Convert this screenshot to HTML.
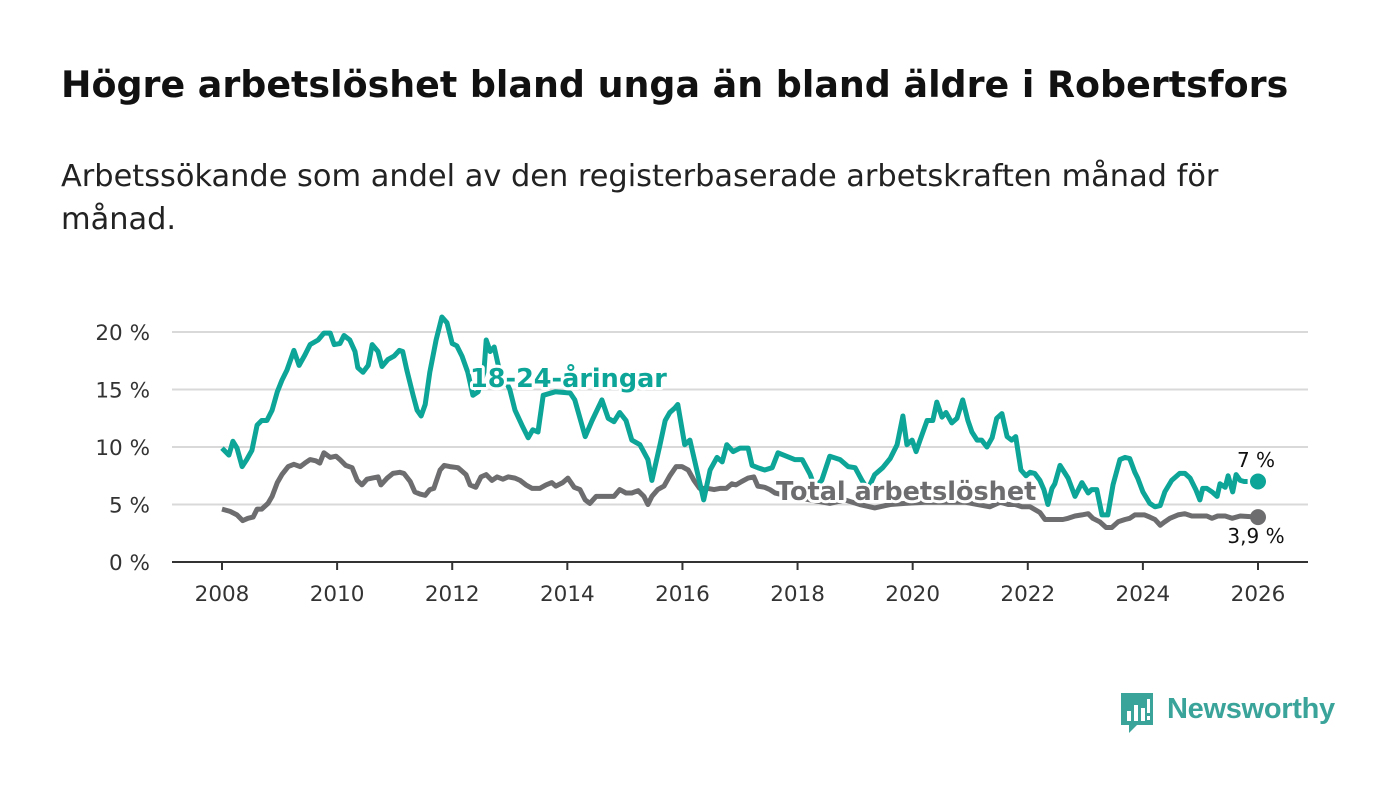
<!DOCTYPE html>
<html><head><meta charset="utf-8">
<style>
body{margin:0;width:1400px;height:794px;background:#fff;overflow:hidden;font-family:"DejaVu Sans",sans-serif;color:#111}
h1{position:absolute;left:61px;top:63px;margin:0;font-size:36.4px;font-weight:bold;white-space:nowrap;font-family:"DejaVu Sans",sans-serif}
.sub{position:absolute;left:61px;top:155px;margin:0;font-size:30.4px;line-height:43px;width:1300px;color:#222;font-family:"DejaVu Sans",sans-serif}
svg{position:absolute;left:0;top:0}
</style></head><body>
<h1>Högre arbetslöshet bland unga än bland äldre i Robertsfors</h1>
<p class="sub">Arbetssökande som andel av den registerbaserade arbetskraften månad för<br>månad.</p>
<svg id="chart" width="1400" height="794"></svg>
<script>
const yTicks=[0,5,10,15,20];
const yTickLabels=["0 %","5 %","10 %","15 %","20 %"];
const xTicks=[2008,2010,2012,2014,2016,2018,2020,2022,2024,2026];
const youthDates=[2008,2008.12,2008.19,2008.26,2008.35,2008.43,2008.52,2008.61,2008.69,2008.78,2008.87,2008.96,2009.04,2009.13,2009.25,2009.34,2009.44,2009.53,2009.67,2009.77,2009.88,2009.95,2010.05,2010.12,2010.22,2010.31,2010.36,2010.45,2010.54,2010.61,2010.71,2010.78,2010.88,2010.99,2011.08,2011.14,2011.21,2011.32,2011.39,2011.46,2011.53,2011.61,2011.72,2011.82,2011.91,2012.00,2012.08,2012.17,2012.27,2012.36,2012.45,2012.55,2012.59,2012.66,2012.73,2012.80,2013.00,2013.09,2013.21,2013.32,2013.40,2013.49,2013.58,2013.79,2014.05,2014.13,2014.31,2014.43,2014.60,2014.71,2014.81,2014.91,2015.02,2015.12,2015.26,2015.40,2015.47,2015.61,2015.70,2015.78,2015.87,2015.92,2016.04,2016.13,2016.25,2016.37,2016.48,2016.60,2016.69,2016.77,2016.88,2017.00,2017.14,2017.21,2017.31,2017.43,2017.56,2017.66,2017.95,2018.08,2018.22,2018.30,2018.42,2018.56,2018.74,2018.88,2019.00,2019.12,2019.22,2019.34,2019.48,2019.61,2019.73,2019.83,2019.90,2019.99,2020.06,2020.13,2020.25,2020.35,2020.42,2020.51,2020.58,2020.68,2020.77,2020.87,2020.96,2021.03,2021.12,2021.20,2021.29,2021.38,2021.46,2021.55,2021.64,2021.72,2021.79,2021.88,2021.97,2022.04,2022.12,2022.21,2022.28,2022.35,2022.42,2022.47,2022.56,2022.70,2022.82,2022.94,2023.05,2023.11,2023.20,2023.29,2023.39,2023.48,2023.60,2023.69,2023.77,2023.86,2023.91,2024.00,2024.12,2024.21,2024.30,2024.38,2024.50,2024.64,2024.73,2024.82,2024.92,2024.99,2025.04,2025.11,2025.20,2025.29,2025.34,2025.43,2025.48,2025.56,2025.62,2025.69,2025.76,2025.82,2026.00];
const youthValues=[9.9,9.3,10.5,9.9,8.3,8.9,9.7,11.9,12.3,12.3,13.2,14.8,15.8,16.7,18.4,17.1,18,18.9,19.3,19.9,19.9,18.9,19,19.7,19.3,18.3,16.9,16.5,17.1,18.9,18.3,17,17.6,17.9,18.4,18.3,16.7,14.5,13.2,12.7,13.7,16.5,19.3,21.3,20.8,19,18.8,17.9,16.5,14.5,14.8,16.5,19.3,18.3,18.7,17.1,15,13.2,11.9,10.8,11.5,11.3,14.5,14.8,14.7,14.1,10.9,12.3,14.1,12.5,12.2,13,12.3,10.6,10.2,8.9,7.1,10.2,12.3,13,13.4,13.7,10.2,10.6,8,5.4,8,9.1,8.7,10.2,9.6,9.9,9.9,8.4,8.2,8,8.2,9.5,8.9,8.9,7.6,6.5,7.1,9.2,8.9,8.3,8.2,7.1,6.3,7.6,8.2,9,10.2,12.7,10.2,10.6,9.6,10.6,12.3,12.3,13.9,12.6,13,12.1,12.5,14.1,12.3,11.3,10.6,10.6,10,10.8,12.5,12.9,10.9,10.6,10.9,8,7.5,7.8,7.7,7.1,6.3,5,6.4,6.8,8.4,7.3,5.7,6.9,6,6.3,6.3,4.1,4.1,6.7,8.9,9.1,9,7.8,7.3,6.1,5.1,4.8,4.9,6.1,7.1,7.7,7.7,7.3,6.3,5.4,6.4,6.4,6.1,5.7,6.8,6.5,7.5,6.1,7.6,7.1,7,7];
const totalDates=[2008,2008.14,2008.26,2008.36,2008.45,2008.54,2008.61,2008.69,2008.80,2008.87,2008.96,2009.04,2009.15,2009.25,2009.36,2009.44,2009.53,2009.63,2009.70,2009.77,2009.88,2009.98,2010.05,2010.15,2010.26,2010.35,2010.43,2010.52,2010.61,2010.71,2010.76,2010.87,2010.97,2011.09,2011.16,2011.27,2011.35,2011.44,2011.53,2011.61,2011.68,2011.79,2011.86,2011.96,2012.10,2012.24,2012.31,2012.41,2012.50,2012.59,2012.69,2012.78,2012.88,2012.97,2013.09,2013.18,2013.28,2013.39,2013.52,2013.63,2013.73,2013.80,2013.92,2014.01,2014.12,2014.22,2014.31,2014.39,2014.50,2014.60,2014.71,2014.81,2014.91,2015.02,2015.12,2015.23,2015.33,2015.40,2015.47,2015.57,2015.68,2015.78,2015.89,2015.99,2016.10,2016.20,2016.30,2016.44,2016.55,2016.65,2016.76,2016.86,2016.93,2017.03,2017.14,2017.24,2017.31,2017.43,2017.52,2017.61,2017.87,2018.22,2018.56,2018.82,2019.08,2019.34,2019.61,2019.87,2020.21,2020.56,2020.91,2021.34,2021.52,2021.66,2021.78,2021.90,2022.04,2022.21,2022.30,2022.38,2022.51,2022.61,2022.70,2022.82,2022.94,2023.05,2023.13,2023.25,2023.36,2023.46,2023.57,2023.69,2023.77,2023.86,2023.95,2024.03,2024.12,2024.21,2024.30,2024.38,2024.47,2024.61,2024.73,2024.85,2024.99,2025.11,2025.20,2025.30,2025.43,2025.55,2025.69,2026.00];
const totalValues=[4.6,4.4,4.1,3.6,3.8,3.9,4.6,4.6,5.1,5.7,6.9,7.6,8.3,8.5,8.3,8.6,8.9,8.8,8.6,9.5,9.1,9.2,8.9,8.4,8.2,7.1,6.7,7.2,7.3,7.4,6.7,7.3,7.7,7.8,7.7,7,6.1,5.9,5.8,6.3,6.4,8,8.4,8.3,8.2,7.6,6.7,6.5,7.4,7.6,7.1,7.4,7.2,7.4,7.3,7.1,6.7,6.4,6.4,6.7,6.9,6.6,6.9,7.3,6.5,6.3,5.4,5.1,5.7,5.7,5.7,5.7,6.3,6,6,6.2,5.7,5,5.7,6.3,6.6,7.5,8.3,8.3,8,7.1,6.4,6.4,6.3,6.4,6.4,6.8,6.7,7,7.3,7.4,6.6,6.5,6.3,6,5.7,5.4,5.1,5.4,5,4.7,5,5.1,5.2,5.2,5.2,4.8,5.2,5,5,4.8,4.8,4.3,3.7,3.7,3.7,3.7,3.8,4,4.1,4.2,3.8,3.5,3,3,3.5,3.7,3.8,4.1,4.1,4.1,3.9,3.7,3.2,3.5,3.8,4.1,4.2,4,4,4,3.8,4,4,3.8,4,3.9];

const NS='http://www.w3.org/2000/svg';
const svg=document.getElementById('chart');
const FONT='DejaVu Sans, sans-serif';
const X=y=>222+(y-2008)*(1258-222)/18;
const Y=v=>562-v*11.5;
function mk(t,a){const e=document.createElementNS(NS,t);for(const k in a)e.setAttribute(k,a[k]);svg.appendChild(e);return e;}
yTicks.forEach((t,i)=>{
  if(t>0){const g=mk('line',{x1:172,x2:1308,y1:Y(t),y2:Y(t),stroke:'#d9d9d9','stroke-width':2});
  
  }
  const l=mk('text',{x:150,y:Y(t)+8,'text-anchor':'end','font-size':21.5,fill:'#333','font-family':FONT});
  l.textContent=yTickLabels[i];
  
  
});
const ax=mk('line',{x1:172,x2:1308,y1:562,y2:562,stroke:'#333','stroke-width':2});


xTicks.forEach(t=>{
  const k=mk('line',{x1:X(t),x2:X(t),y1:562,y2:570,stroke:'#333','stroke-width':2});
  
  
  const l=mk('text',{x:X(t),y:601,'text-anchor':'middle','font-size':21.5,fill:'#333','font-family':FONT});
  l.textContent=t;
  
  
});
function line(d,v,c,name){
  const p=mk('path',{d:d.map((x,i)=>(i?'L':'M')+X(x).toFixed(1)+','+Y(v[i]).toFixed(1)).join(''),fill:'none',stroke:c,'stroke-width':5,'stroke-linejoin':'round'});
  
  
  const c2=mk('circle',{cx:X(d[d.length-1]),cy:Y(v[v.length-1]),r:8,fill:c});
  
  
}
line(totalDates,totalValues,'#6d6d6f','total-line');
line(youthDates,youthValues,'#0ca597','youth-line');
function lab(txt,x,y,c,size,w,name,anchor){
  const t=mk('text',{x:x,y:y,fill:c,'font-size':size,'font-weight':w,'text-anchor':anchor||'start',stroke:'#fff','stroke-width':6,'paint-order':'stroke','stroke-linejoin':'round','font-family':FONT});
  t.textContent=txt;
  
  
}
lab('18-24-åringar',470,387,'#0ca597',25.5,'bold','youth-series-label');
lab('Total arbetslöshet',776,500,'#6d6d6f',25.5,'bold','total-series-label');
lab(youthValues[youthValues.length-1].toString().replace('.',',')+' %',1256,467,'#111',20,'normal','youth-end-value','middle');
lab(totalValues[totalValues.length-1].toString().replace('.',',')+' %',1256,543,'#111',20,'normal','total-end-value','middle');
</script>
<div style="position:absolute;left:1119px;top:691px;display:flex;align-items:center">
  <svg width="36" height="44" viewBox="0 0 36 44" style="position:static">
    <path d="M2 2h32v32H18l-8 8v-8H2z" fill="#3aa39a"/>
    <rect x="8" y="20" width="4" height="10" fill="#fff"/><rect x="15" y="14" width="4" height="16" fill="#fff"/><rect x="22" y="17" width="4" height="13" fill="#fff"/><rect x="28" y="8" width="3" height="14" fill="#fff"/><rect x="28" y="25" width="3" height="4" fill="#fff"/>
  </svg>
  <span style="font-family:'Liberation Sans',sans-serif;font-size:29px;color:#3aa39a;margin-left:12px;margin-top:-8px;font-weight:bold;letter-spacing:-0.3px">Newsworthy</span>
</div>
</body></html>
